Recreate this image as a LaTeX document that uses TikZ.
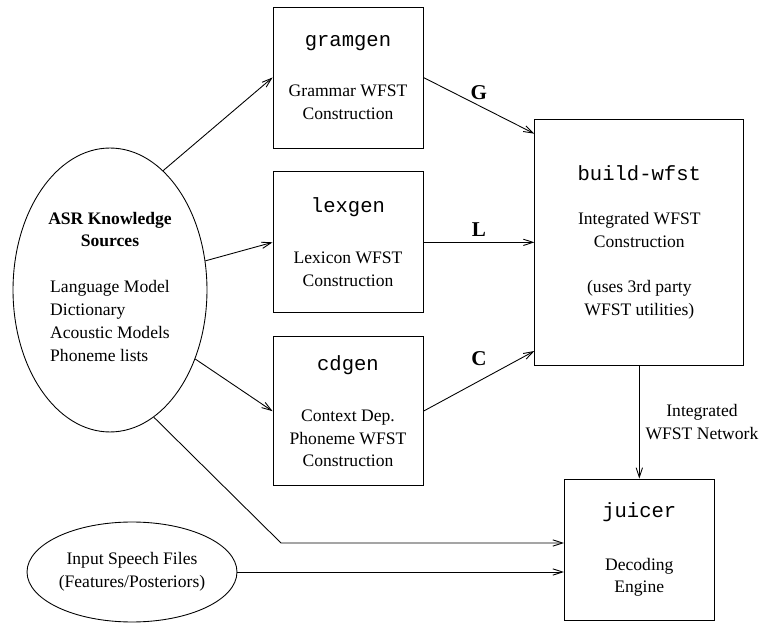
\documentclass[tikz,border=0pt]{standalone}
\usepackage{fontspec}
\setmainfont{Liberation Serif}
\setmonofont{Liberation Mono}
\usepackage{tikz}
\usetikzlibrary{arrows,arrows.meta,shapes.geometric,positioning}
\newcommand{\prog}[1]{{\fontsize{11.7}{13}\selectfont\ttfamily #1}}

\begin{document}
\begin{tikzpicture}[
        -{Straight Barb[length=5.5pt,width=3.6pt]},
        x = 0.02cm, y = -0.02cm, % one unit = one pixel of the sketch
        line width = 0.5pt,
        font = \fontsize{10}{13}\selectfont,
        node distance = 0.46cm]

        \tikzstyle{every node}=[align = center]
        \tikzstyle{tool}=[
            draw = black,
            rectangle,
            minimum width = 3cm,
            minimum height = 2.82cm,
            inner sep = 0pt
        ]
        \tikzstyle{source}=[
            draw = black,
            ellipse,
            inner sep = 0pt
        ]
        \tikzset{l/.style={font=\bfseries\fontsize{12}{14}\selectfont}}
        \useasboundingbox (0,0) rectangle (764,624);

        \node[source, minimum width = 3.88cm, minimum height = 5.68cm] (asr) at (110,290)
            {\textbf{ASR Knowledge}\\ \textbf{Sources}\\[13pt]
             \begin{tabular}[t]{@{}l@{}}Language Model\\ Dictionary\\ Acoustic Models\\ Phoneme lists\end{tabular}};
        \node[source, minimum width = 4.2cm, minimum height = 2cm] (speech) at (132,572)
            {Input Speech Files\\ (Features/Posteriors)};

        \node[tool] (gramgen) at (348,77.5)
            {\prog{gramgen}\\[16pt] Grammar WFST\\ Construction};
        \node[tool] (lexgen) [below = of gramgen]
            {\prog{lexgen}\\[16pt] Lexicon WFST\\ Construction};
        \node[tool, minimum height = 2.98cm] (cdgen) [below = of lexgen]
            {\prog{cdgen}\\[16pt] Context Dep.\\ Phoneme WFST\\ Construction};
        \node[tool, minimum width = 4.18cm, minimum height = 4.92cm] (build) [right = 2.22cm of lexgen]
            {\prog{build-wfst}\\[12pt] Integrated WFST\\ Construction\\[12.5pt] (uses 3rd party\\ WFST utilities)};
        \node[tool] (juicer) [below = 2.26cm of build]
            {\prog{juicer}\\[17pt] Decoding\\ Engine};

        \coordinate (bend) at (281,543);

        \path
        (asr.66) edge (gramgen.west)
        (asr.17) edge (lexgen.west)
        (asr.-39) edge (cdgen.west)
        (gramgen.east) edge
        node[l, above] {G} (build.134)
        (lexgen.east) edge
        node[l, above] {L} (build.west)
        (cdgen.east) edge
        node[l, above = 5pt] {C} (build.226)
        (build.south) edge
        node[right] {Integrated\\ WFST Network} (juicer.north)
        (speech.east) edge (speech.east -| juicer.west)
        ;
        \draw (asr.-71) -- (bend) -- (bend -| juicer.west);
    \end{tikzpicture}
\end{document}
